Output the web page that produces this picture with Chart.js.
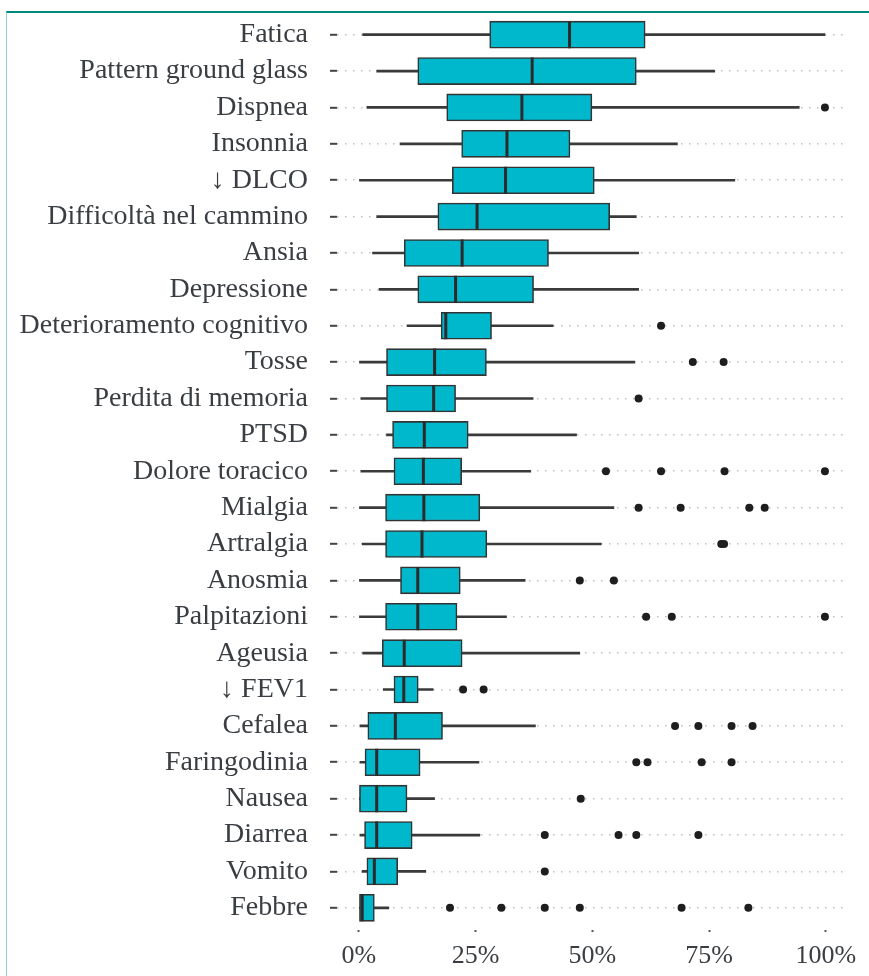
<!DOCTYPE html>
<html>
<head>
<meta charset="utf-8">
<script src="https://cdn.jsdelivr.net/npm/chart.js@4.4.1/dist/chart.umd.min.js"></script>
<style>
  html, body { margin: 0; padding: 0; background: #ffffff; }
  #wrap { position: relative; width: 869px; height: 976px; overflow: hidden; }
  #frame {
    position: absolute; left: 6px; top: 11px; right: 0; bottom: 0;
    border-top: 2px solid #00897e; border-left: 1.5px solid #8fcfcb;
    pointer-events: none;
  }
  canvas { position: absolute; left: 0; top: 0; }
</style>
</head>
<body>
<div id="wrap">
  <canvas id="chart" width="869" height="976"></canvas>
  <div id="frame"></div>
</div>
<script>
// Symptom categories, top to bottom
const categories = [
  'Fatica', 'Pattern ground glass', 'Dispnea', 'Insonnia', '\u2193 DLCO',
  'Difficolt\u00e0 nel cammino', 'Ansia', 'Depressione', 'Deterioramento cognitivo',
  'Tosse', 'Perdita di memoria', 'PTSD', 'Dolore toracico', 'Mialgia', 'Artralgia',
  'Anosmia', 'Palpitazioni', 'Ageusia', '\u2193 FEV1', 'Cefalea', 'Faringodinia',
  'Nausea', 'Diarrea', 'Vomito', 'Febbre'
];

// Box-plot statistics (% prevalence)
const whiskerLow  = [0.8, 3.8, 1.7, 8.8, 0.0, 3.8, 2.9, 4.3, 10.3, 0.0, 0.4, 5.9, 0.4, 0.0, 0.7, 0.1, 0.0, 0.8, 5.2, 0.2, 0.2, 0.0, 0.2, 0.7, 0.0];
const q1          = [28.0, 12.6, 18.8, 22.0, 20.0, 16.9, 9.7, 12.6, 17.6, 5.9, 5.9, 7.2, 7.5, 5.7, 5.7, 8.9, 5.7, 5.0, 7.5, 1.9, 1.3, 0.0, 1.2, 1.7, 0.0];
const median      = [45.1, 37.1, 34.9, 31.7, 31.4, 25.3, 22.1, 20.7, 18.6, 16.2, 16.0, 14.0, 13.8, 13.9, 13.5, 12.6, 12.6, 9.7, 9.6, 7.8, 3.8, 3.8, 3.8, 3.3, 0.7];
const q3          = [61.3, 59.4, 49.9, 45.2, 50.4, 53.7, 40.6, 37.4, 28.4, 27.3, 20.7, 23.4, 22.0, 25.9, 27.4, 21.7, 21.0, 22.1, 12.7, 17.9, 13.1, 10.3, 11.4, 8.3, 3.3];
const whiskerHigh = [99.8, 76.2, 94.3, 68.2, 80.5, 59.4, 59.9, 59.9, 41.6, 59.1, 37.3, 46.6, 36.8, 54.6, 51.9, 35.6, 31.6, 47.3, 15.9, 37.8, 25.7, 16.2, 25.9, 14.3, 6.4];
const outliers = [
  [], [], [99.8], [], [], [], [], [], [64.7],
  [71.5, 78.1], [59.9], [], [52.9, 64.7, 78.3, 99.8],
  [59.9, 68.9, 83.6, 86.9], [77.6, 78.2], [47.3, 54.6], [61.5, 67.0, 99.8],
  [], [22.3, 26.7], [67.7, 72.7, 79.8, 84.3], [59.4, 61.8, 73.4, 79.8],
  [47.5], [39.8, 55.6, 59.4, 72.7], [39.8], [19.5, 30.5, 39.8, 47.3, 69.1, 83.4]
];

// Axis ticks
const tickValues = [0, 25, 50, 75, 100];
const tickLabels = ['0%', '25%', '50%', '75%', '100%'];

const serif = '"Liberation Serif", "DejaVu Serif", serif';
const ink = '#3a3e42';

const boxData = categories.map((c, i) => [q1[i], q3[i]]);
const whiskerData = categories.map((c, i) => [whiskerLow[i], whiskerHigh[i]]);
const medianData = categories.map((c, i) => ({ x: median[i], y: c }));
const outlierData = [];
categories.forEach((c, i) => outliers[i].forEach(v => outlierData.push({ x: v, y: c })));

new Chart(document.getElementById('chart'), {
  type: 'bar',
  data: {
    labels: categories,
    datasets: [
      {
        label: 'whiskers', data: whiskerData,
        backgroundColor: '#3a3a3a', borderWidth: 0,
        barThickness: 2, grouped: false, order: 3
      },
      {
        label: 'IQR', data: boxData,
        backgroundColor: '#00b8cc', borderColor: '#333333', borderWidth: 1.6,
        borderSkipped: false, barThickness: 27, grouped: false, order: 2
      },
      {
        type: 'scatter', label: 'median', data: medianData,
        pointStyle: 'line', rotation: 90, radius: 13.5,
        borderColor: '#2b2b2b', borderWidth: 3, order: 1
      },
      {
        type: 'scatter', label: 'outliers', data: outlierData,
        pointStyle: 'circle', radius: 4,
        backgroundColor: '#1e1e1e', borderColor: '#1e1e1e', borderWidth: 0, order: 0
      }
    ]
  },
  options: {
    indexAxis: 'y',
    responsive: false,
    animation: false,
    events: [],
    layout: { padding: { top: 16, right: 24, bottom: 0, left: 0 } },
    plugins: { legend: { display: false }, tooltip: { enabled: false } },
    scales: {
      x: {
        type: 'linear', min: -4.7, max: 104.1,
        afterBuildTicks: s => { s.ticks = tickValues.map(v => ({ value: v })); },
        afterFit: s => { s.height = 50; s.paddingLeft = 0; s.paddingRight = 0; },
        ticks: {
          callback: v => tickLabels[tickValues.indexOf(v)],
          font: { family: serif, size: 26 }, color: ink, padding: 8,
          maxRotation: 0, autoSkip: false
        },
        grid: {
          drawOnChartArea: false, drawTicks: true, tickLength: 7,
          tickColor: '#555555', tickWidth: 2, tickBorderDash: [0, 4, 2, 10]
        },
        border: { display: false }
      },
      y: {
        type: 'category', offset: true,
        afterFit: s => { s.width = 337; s.paddingTop = 0; s.paddingBottom = 0; },
        ticks: { font: { family: serif, size: 28 }, color: ink, padding: 22, autoSkip: false },
        grid: {
          offset: false, color: '#c4c4c4', lineWidth: 1.6,
          tickLength: 7, tickColor: '#444444', tickWidth: 2, tickBorderDash: []
        },
        border: { display: false, dash: [1.6, 6.4] }
      }
    }
  }
});
</script>
</body>
</html>
